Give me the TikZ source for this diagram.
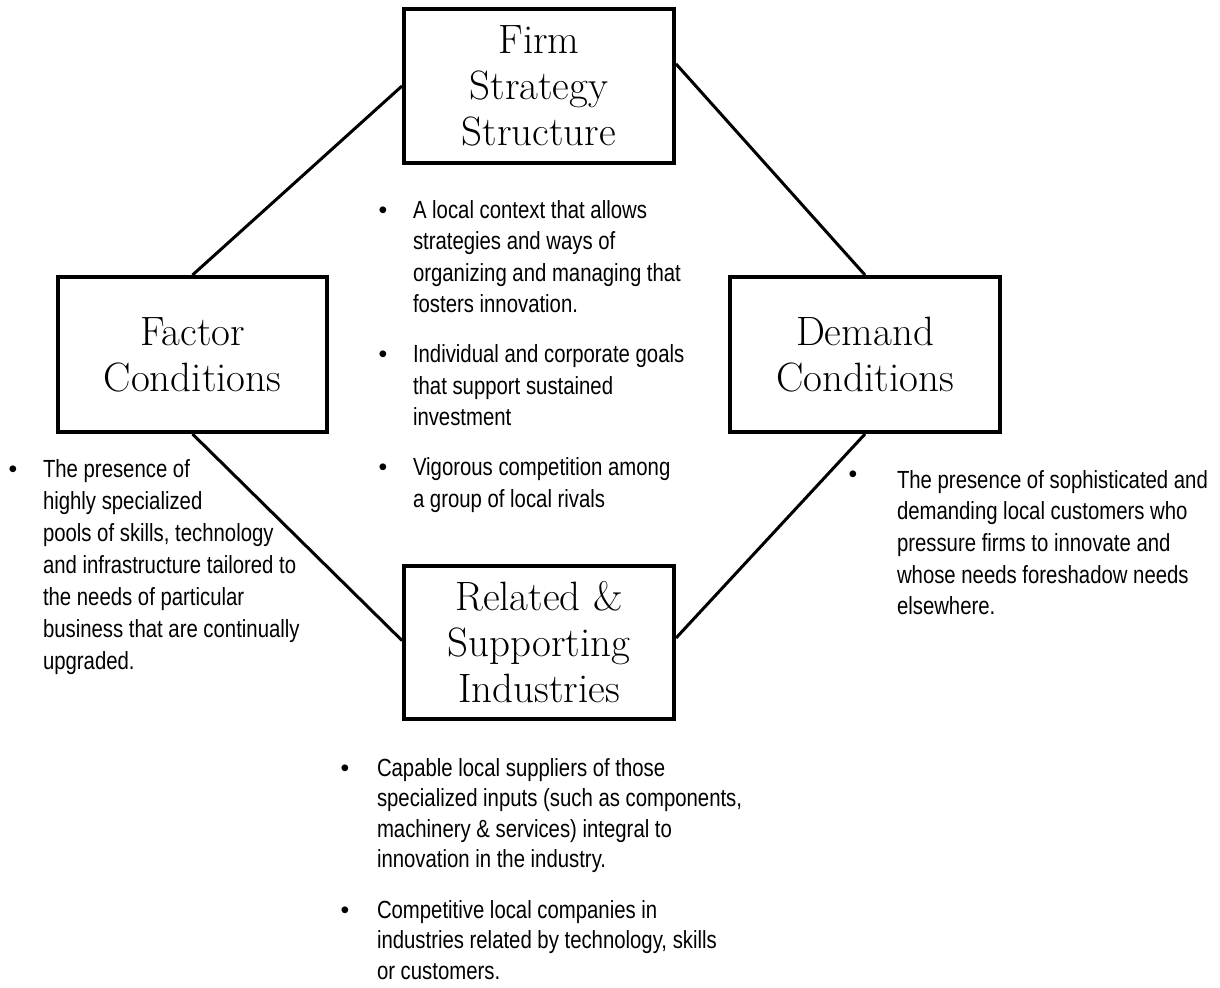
\documentclass[tikz,border=0pt]{standalone}
\usepackage{fontspec}
\usetikzlibrary{calc}
% narrow sans for the bullet texts, plain one for the bullet glyphs
\newfontfamily\bodyfont[FakeStretch=0.82]{Liberation Sans}
\newfontfamily\dotfont{Liberation Sans}
\tikzset{
  forcebox/.style={draw, line width=2pt, inner sep=0pt, align=center,
    font=\fontsize{20.5}{23}\selectfont},
  link/.style={line width=1.5pt},
  bodytext/.style={anchor=base west, inner sep=0pt, outer sep=0pt},
  dot/.style={anchor=base, inner sep=0pt, font=\dotfont\fontsize{12.4}{15}\selectfont},
}
\newcommand{\lines}[2]{{\bodyfont\fontsize{12.4}{#1}\selectfont
  \begin{tabular}[t]{@{}l@{}}#2\end{tabular}}}
\begin{document}
\begin{tikzpicture}[x=0.5pt, y=-0.5pt]
  \useasboundingbox (0,0) rectangle (1220,987);

  % the four corners of the diamond
  \node[forcebox, minimum width=135pt, minimum height=77pt] (firm) at (539,86)
    {Firm\\Strategy\\Structure};
  \node[forcebox, minimum width=134.5pt, minimum height=77.5pt] (factor) at (192.5,354.5)
    {Factor\\Conditions};
  \node[forcebox, minimum width=135pt, minimum height=77.5pt] (demand) at (865,354.5)
    {Demand\\Conditions};
  \node[forcebox, minimum width=135pt, minimum height=76.5pt] (related) at (539,642.5)
    {Related \&\\Supporting\\Industries};

  % connectors
  \draw[link] (firm.west) -- (factor.north);
  \draw[link] ($(firm.north east)!0.36!(firm.south east)$) -- (demand.north);
  \draw[link] (factor.south) -- ($(related.west)+(0,-2)$);
  \draw[link] (demand.south) -- ($(related.east)+(0,-4.5)$);

  % firm strategy bullets
  \node[dot] (d1) at (383,218) {•};
  \node[dot] (d2) at (383,362.5) {•};
  \node[dot] (d3) at (383,475.5) {•};
  \node[bodytext] (firmtext) at (413,218) {\lines{15.75pt}{%
    A local context that allows\\ strategies and ways of\\
    organizing and managing that\\ fosters innovation.\\[9.25pt]
    Individual and corporate goals\\ that support sustained\\
    investment\\[9.25pt]
    Vigorous competition among\\ a group of local rivals}};

  % factor conditions bullet
  \node[dot] (d4) at (13,477) {•};
  \node[bodytext] (factortext) at (43,477) {\lines{16pt}{%
    The presence of\\ highly specialized\\ pools of skills, technology\\
    and infrastructure tailored to\\ the needs of particular\\
    business that are continually\\ upgraded.}};

  % demand conditions bullet
  \node[dot] (d5) at (853,482) {•};
  \node[bodytext] (demandtext) at (897,488) {\lines{15.85pt}{%
    The presence of sophisticated and\\ demanding local customers who\\
    pressure firms to innovate and\\ whose needs foreshadow needs\\
    elsewhere.}};

  % related and supporting industries bullets
  \node[dot] (d6) at (345,776) {•};
  \node[dot] (d7) at (345,918) {•};
  \node[bodytext] (relatedtext) at (377,776) {\lines{15.25pt}{%
    Capable local suppliers of those\\
    specialized inputs (such as components,\\
    machinery \& services) integral to\\
    innovation in the industry.\\[10pt]
    Competitive local companies in\\
    industries related by technology, skills\\
    or customers.}};
\end{tikzpicture}
\end{document}
